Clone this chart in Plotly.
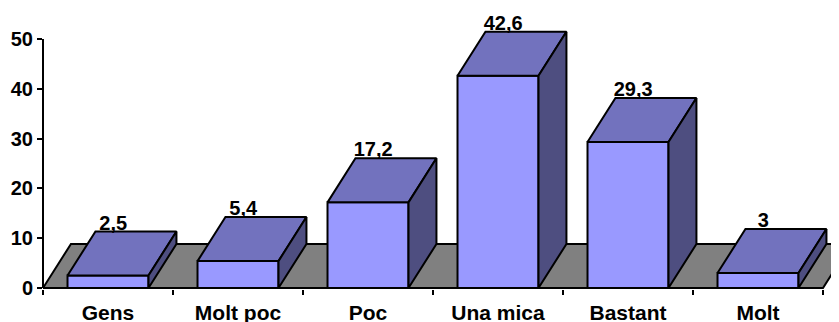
import plotly.graph_objects as go

categories = ['Gens', 'Molt poc', 'Poc', 'Una mica', 'Bastant', 'Molt']
values = [2.5, 5.4, 17.2, 42.6, 29.3, 3]
value_labels = ['2,5', '5,4', '17,2', '42,6', '29,3', '3']
y_ticks = [0, 10, 20, 30, 40, 50]

color_front = '#9999FF'
color_top = '#7272BE'
color_side = '#4E4E80'
color_floor = '#808080'

# 3d look: half bar width and depth offset, in axis units
half_w = 0.3115
dx = 0.215
dy = 8.84


def polys(points_list):
    xs, ys = [], []
    for pts in points_list:
        for px, py in pts + [pts[0]]:
            xs.append(px)
            ys.append(py)
        xs.append(None)
        ys.append(None)
    return xs, ys


n = len(categories)
fig = go.Figure()

# Floor
fx, fy = polys([[(-0.5, 0), (n - 0.5, 0), (n - 0.5 + dx, dy), (-0.5 + dx, dy)]])
fig.add_trace(go.Scatter(x=fx, y=fy, mode='lines', fill='toself',
                         fillcolor=color_floor, line=dict(color='black', width=2),
                         hoverinfo='skip'))

front, top, side = [], [], []
for i, v in enumerate(values):
    l, r = i - half_w, i + half_w
    front.append([(l, 0), (r, 0), (r, v), (l, v)])
    top.append([(l, v), (r, v), (r + dx, v + dy), (l + dx, v + dy)])
    side.append([(r, 0), (r + dx, dy), (r + dx, v + dy), (r, v)])

for faces, col in [(front, color_front), (top, color_top), (side, color_side)]:
    px, py = polys(faces)
    fig.add_trace(go.Scatter(x=px, y=py, mode='lines', fill='toself',
                             fillcolor=col, line=dict(color='black', width=2),
                             hoverinfo='skip'))

# Value labels
fig.add_trace(go.Scatter(
    x=[i + 0.04 for i in range(n)],
    y=[v + dy - 0.6 for v in values],
    mode='text', text=value_labels, textposition='top center',
    textfont=dict(size=20, color='black', family='Liberation Sans, Arial', weight='bold'),
    cliponaxis=False, hoverinfo='skip'))

# page has an 8px body margin, so the figure is 8px smaller each way
fig.update_layout(
    width=831, height=314,
    margin=dict(l=35, r=0, t=0, b=33),
    plot_bgcolor='white', paper_bgcolor='white',
    showlegend=False,
    font=dict(family='Liberation Sans, Arial', size=20, color='black', weight='bold'),
)

fig.update_xaxes(
    range=[-0.5, -0.5 + 796 / 130],
    automargin=False,
    tickmode='array', tickvals=list(range(n)), ticktext=categories,
    tickfont=dict(size=21),
    ticks='', showgrid=False, zeroline=False, showline=False,
    ticklabelstandoff=9,
    minor=dict(tickmode='array', tickvals=[k - 0.5 for k in range(n + 1)],
               ticks='outside', ticklen=5, tickwidth=2, tickcolor='black',
               showgrid=False),
)
fig.update_yaxes(
    range=[-0.2, 56.22],
    automargin=False,
    tickmode='array', tickvals=y_ticks,
    ticks='outside', ticklen=5, tickwidth=2, tickcolor='black',
    showgrid=False, zeroline=False, showline=False,
)

# y axis line, only up to the top tick
fig.add_shape(type='line', xref='paper', yref='y', x0=0, x1=0, y0=0, y1=y_ticks[-1],
              line=dict(color='black', width=2))

fig.write_html("out.html")
